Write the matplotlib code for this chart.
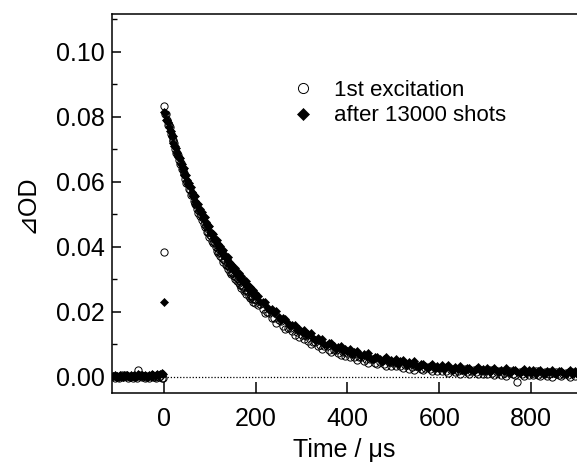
import numpy as np
import matplotlib
matplotlib.use('Agg')
import matplotlib.pyplot as plt
from matplotlib.ticker import MultipleLocator

plt.rcParams['font.family'] = ['Liberation Sans', 'DejaVu Sans']

# time base (us)
t_pre = np.arange(-110, 0, 3)
t_edge = np.array([0])
t_fast = np.arange(1, 200, 2)
t_slow = np.arange(200, 901, 5)
t = np.concatenate([t_pre, t_edge, t_fast, t_slow])

# values below are dOD x 1e-4
# 1st excitation (open circles)
first_pre = [3, -2, 4, 1, -3, 2, 5, -1, 3, 6, 2, -4, 0, 4, -2, 3, 1, -3, 22, 2, 5, -1, 3, -3, 0, 4, -2,
             2, 5, -1, 1, -4, 3, 0, 2, -2, -3]
first_edge = [385]
first_fast = [834, 808, 810, 790, 775, 775, 768, 747, 743, 725, 728, 721, 702, 690, 689, 684, 669, 654, 659, 641,
              641, 624, 628, 610, 598, 600, 595, 577, 575, 559, 564, 560, 543, 533, 534, 530, 517, 505, 511, 495,
              498, 482, 488, 472, 461, 465, 462, 445, 446, 431, 437, 435, 419, 411, 414, 411, 400, 389, 397, 382,
              386, 372, 380, 365, 355, 361, 359, 344, 345, 332, 340, 338, 324, 317, 321, 320, 310, 300, 309, 295,
              300, 288, 296, 282, 274, 280, 280, 265, 268, 255, 264, 264, 250, 244, 249, 249, 240, 231, 241, 228]
first_slow = [237, 221, 226, 209, 198, 201, 198, 181, 181, 167, 174, 171, 156, 148, 152, 150, 140, 129, 138, 124,
              129, 116, 125, 111, 103, 109, 109, 95, 98, 86, 95, 96, 83, 77, 83, 83, 75, 67, 78, 66,
              73, 62, 72, 60, 53, 61, 63, 50, 54, 44, 54, 56, 44, 40, 47, 49, 41, 34, 46, 35,
              43, 33, 44, 33, 27, 36, 38, 26, 31, 22, 33, 35, 24, 21, 28, 30, 24, 17, 29, 19,
              27, 18, 29, 19, 13, 23, 25, 14, 19, 10, 21, 24, 14, 10, 18, 21, 14, 8, 21, 10,
              19, 10, 22, 11, 6, 16, 18, 7, 13, 4, 16, 18, 8, 5, -14, 16, 9, 3, 16, 6,
              15, 6, 18, 7, 2, 12, 15, 4, 10, 1, 13, 15, 5, 2, 10, 13, 7, 1, 14, 4,
              13]

# after 13000 shots (filled diamonds)
shots_pre = [2, 5, 1, 4, 0, 6, 3, 1, 5, 2, 7, 4, 0, 5, 3, 6, 1, 4, 8, 5, 2, 6, 3, 7, 4, 1, 6,
             3, 8, 5, 2, 7, 9, 6, 10, 12, 9]
shots_edge = [231]
shots_fast = [816, 813, 792, 790, 786, 768, 756, 756, 742, 742, 721, 710, 711, 705, 689, 677, 676, 674, 654, 654,
              641, 642, 623, 623, 621, 605, 594, 596, 584, 586, 568, 558, 561, 557, 543, 533, 533, 533, 515, 517,
              505, 508, 490, 492, 491, 477, 468, 471, 461, 465, 447, 439, 444, 441, 428, 419, 421, 423, 406, 409,
              398, 402, 386, 389, 390, 376, 369, 373, 364, 369, 353, 346, 351, 349, 338, 330, 334, 336, 320, 324,
              314, 320, 304, 309, 310, 297, 291, 297, 288, 294, 279, 272, 279, 278, 268, 261, 265, 268, 253, 258]
shots_slow = [248, 250, 231, 232, 231, 215, 206, 209, 198, 202, 184, 176, 181, 178, 166, 157, 159, 161, 145, 149,
              139, 144, 128, 132, 134, 121, 115, 120, 112, 118, 103, 97, 104, 104, 94, 87, 92, 96, 81, 87,
              79, 86, 72, 78, 81, 70, 65, 72, 65, 73, 59, 54, 63, 63, 55, 50, 55, 60, 47, 53,
              46, 54, 41, 48, 52, 42, 38, 46, 40, 48, 35, 31, 40, 41, 34, 29, 35, 40, 28, 35,
              28, 37, 24, 31, 36, 26, 23, 31, 26, 34, 22, 18, 28, 29, 22, 18, 24, 30, 17, 25,
              19, 27, 15, 23, 27, 18, 15, 23, 18, 27, 15, 11, 21, 23, 16, 11, 18, 24, 12, 20,
              13, 22, 10, 18, 23, 13, 10, 19, 14, 23, 11, 8, 17, 19, 12, 8, 15, 21, 9, 17,
              10]

first = np.array(first_pre + first_edge + first_fast + first_slow) * 1e-4
shots = np.array(shots_pre + shots_edge + shots_fast + shots_slow) * 1e-4

fig = plt.figure(figsize=(5.77, 4.65), dpi=100)
ax = fig.add_axes([0.194, 0.155, 0.806, 0.815])

ax.hlines(0, 0, 900, colors='black', linestyles=(0, (1, 1.5)), linewidth=0.9, zorder=1)
ax.plot(t, first, 'o', ms=5.2, mfc='none', mec='black', mew=0.7, label='1st excitation', zorder=2)
ax.plot(t, shots, 'D', ms=4.2, mfc='black', mec='black', mew=0.5, label='after 13000 shots', zorder=3)

ax.set_xlim(-113, 900)
ax.set_ylim(-0.0049, 0.1117)
ax.xaxis.set_major_locator(MultipleLocator(200))
ax.yaxis.set_major_locator(MultipleLocator(0.02))
ax.yaxis.set_minor_locator(MultipleLocator(0.01))
ax.yaxis.set_major_formatter(plt.FormatStrFormatter('%.2f'))

ax.spines['right'].set_visible(False)
for s in ['left', 'top', 'bottom']:
    ax.spines[s].set_linewidth(1.1)
ax.tick_params(axis='x', direction='in', length=8, width=1.1, labelsize=18, pad=10)
ax.tick_params(axis='y', which='major', direction='in', length=6.5, width=1.1, labelsize=18, pad=5)
ax.tick_params(axis='y', which='minor', direction='in', length=3.5, width=1.0)

ax.set_xlabel('Time / \u03bcs', fontsize=18, labelpad=5)
ax.set_ylabel('\u22bfOD', fontsize=18, labelpad=13)

ax.legend(loc='upper left', bbox_to_anchor=(0.386, 0.826), frameon=False, fontsize=16,
          markerscale=1.4, handlelength=1.0, handletextpad=0.9, labelspacing=0.2,
          borderaxespad=0, borderpad=0)

fig.savefig('out.png', dpi=100)
